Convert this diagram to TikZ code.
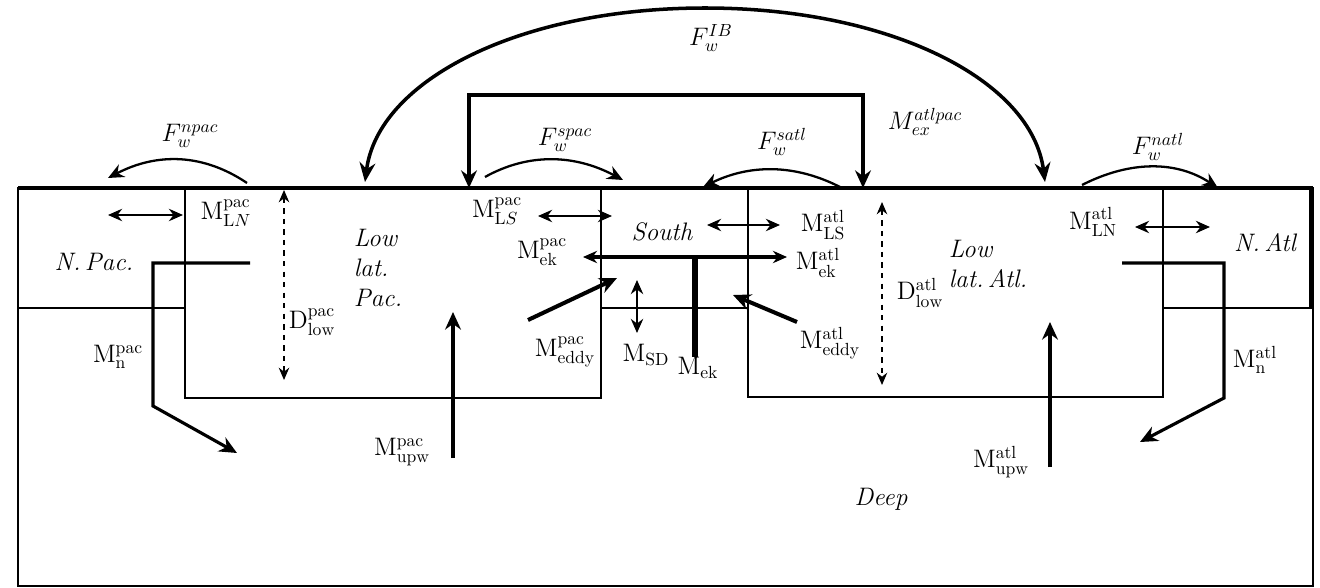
\documentclass[tikz,border=0pt]{standalone}
\usepackage{fontspec}
\usepackage{tikz}
\usetikzlibrary{arrows.meta,positioning}
\usepackage{amsmath}

\begin{document}
\begin{tikzpicture}[x=0.02cm,y=-0.02cm,
  wall/.style={line width=1.3pt},
  topwall/.style={line width=2.4pt},
  flux/.style={line width=2.3pt,-{Stealth[length=10pt,width=9pt]}},
  path flux/.style={line width=1.8pt,-{Stealth[length=10pt,width=9pt]}},
  mix/.style={line width=1.4pt,{Stealth[length=8pt,width=7pt]}-{Stealth[length=8pt,width=7pt]}},
  depth/.style={line width=0.8pt,dashed,{Stealth[length=7pt,width=6pt]}-{Stealth[length=7pt,width=6pt]}},
  wind/.style={line width=1.3pt,-{Stealth[length=9pt,width=8pt]}},
  lbl/.style={font=\fontsize{14.4}{17}\selectfont},
  region/.style={font=\fontsize{14.4}{17}\selectfont\itshape,align=left}]
  \useasboundingbox (0,0) rectangle (1320,588);

  % ocean boxes
  \draw[wall] (18,188) rectangle (1313,586);
  \draw[topwall] (18,188) -- (1313,188);
  \draw[wall] (18,308) -- (185,308) (185,188) -- (185,398) -- (601,398) -- (601,188);
  \draw[wall] (601,308) -- (748,308) (748,188) -- (748,397) -- (1163,397) -- (1163,188);
  \draw[wall] (1163,308) -- (1313,308);
  \draw[topwall] (1311,188) -- (1311,308);

  % box names
  \node[region] (npac) at (94,262) {N.\,Pac.};
  \node[region] (lowpac) at (378,268) {Low\\lat.\\Pac.};
  \node[region] (south) at (662,232) {South};
  \node[region] (lowatl) at (988,264) {Low\\lat.\,Atl.};
  \node[region] (natl) at (1265,243) {N.\,Atl};
  \node[region] (deep) at (881,499) {Deep};

  % wind-driven fluxes over the top
  \draw[wind,line width=2pt,{Stealth[length=11pt,width=9pt]}-{Stealth[length=11pt,width=9pt]}]
    (365,182) .. controls (378,80) and (520,8) .. (705,8)
              .. controls (890,8) and (1032,80) .. (1045,182);
  \node[lbl] (fib) at (711,38) {$F_w^{IB}$};
  \draw[wind] (247,183) .. controls (204,154) and (158,152) .. (108,178);
  \node[lbl] (fnpac) at (190,136) {$F_w^{npac}$};
  \draw[wind] (485,177) .. controls (528,153) and (574,154) .. (623,180);
  \node[lbl] (fspac) at (565,140) {$F_w^{spac}$};
  \draw[wind] (840,187) .. controls (795,164) and (750,164) .. (703,187);
  \node[lbl] (fsatl) at (782,142) {$F_w^{satl}$};
  \draw[wind] (1082,185) .. controls (1131,160) and (1177,161) .. (1218,188);
  \node[lbl] (fnatl) at (1158,147) {$F_w^{natl}$};

  % exchange between basins
  \draw[path flux,{Stealth[length=10pt,width=9pt]}-{Stealth[length=10pt,width=9pt]}]
    (469,188) -- (469,95) -- (863,95) -- (863,188);
  \node[lbl] (mex) at (925,122) {$M_{ex}^{atlpac}$};

  % Pacific side
  \draw[mix] (108,215) -- (183,215);
  \node[lbl] (mlnpac) at (226,213) {$\mathrm{M}^{\mathrm{pac}}_{\mathrm{L}N}$};
  \draw[path flux] (250,263) -- (153,263) -- (153,406) -- (237,453);
  \node[lbl] (mnpac) at (118,357) {$\mathrm{M}^{\mathrm{pac}}_{\mathrm{n}}$};
  \draw[depth] (284,190) -- (284,380);
  \node[lbl] (dpac) at (312,322) {$\mathrm{D}^{\mathrm{pac}}_{\mathrm{low}}$};
  \draw[flux] (453,458) -- (453,312);
  \node[lbl] (mupwpac) at (402,452) {$\mathrm{M}^{\mathrm{pac}}_{\mathrm{upw}}$};
  \draw[mix] (538,216) -- (612,216);
  \node[lbl] (mlspac) at (497,211) {$\mathrm{M}^{\mathrm{pac}}_{\mathrm{L}S}$};
  \node[lbl] (mekpac) at (542,252) {$\mathrm{M}^{\mathrm{pac}}_{\mathrm{ek}}$};
  \draw[flux] (528,320) -- (617,278);
  \node[lbl] (meddypac) at (565,352) {$\mathrm{M}^{\mathrm{pac}}_{\mathrm{eddy}}$};

  % Southern box
  \draw[mix] (707,225) -- (780,225);
  \draw[mix,line width=1.8pt] (583,257) -- (787,257);
  \draw[line width=3pt] (695,257) -- (695,357);
  \node[lbl] (mek) at (698,368) {$\mathrm{M}_{\mathrm{ek}}$};
  \draw[mix] (637,280) -- (637,333);
  \node[lbl] (msd) at (646,355) {$\mathrm{M}_{\mathrm{SD}}$};

  % Atlantic side
  \node[lbl] (mlsatl) at (823,225) {$\mathrm{M}^{\mathrm{atl}}_{\mathrm{LS}}$};
  \node[lbl] (mekatl) at (818,263) {$\mathrm{M}^{\mathrm{atl}}_{\mathrm{ek}}$};
  \draw[flux] (797,322) -- (733,295);
  \node[lbl] (meddyatl) at (830,343) {$\mathrm{M}^{\mathrm{atl}}_{\mathrm{eddy}}$};
  \draw[depth] (882,202) -- (882,385);
  \node[lbl] (datl) at (920,293) {$\mathrm{D}^{\mathrm{atl}}_{\mathrm{low}}$};
  \draw[flux] (1050,467) -- (1050,322);
  \node[lbl] (mupwatl) at (1001,462) {$\mathrm{M}^{\mathrm{atl}}_{\mathrm{upw}}$};
  \draw[mix] (1135,227) -- (1210,227);
  \node[lbl] (mlnatl) at (1093,222) {$\mathrm{M}^{\mathrm{atl}}_{\mathrm{LN}}$};
  \draw[path flux] (1122,263) -- (1224,263) -- (1224,398) -- (1140,442);
  \node[lbl] (mnatl) at (1255,360) {$\mathrm{M}^{\mathrm{atl}}_{\mathrm{n}}$};
\end{tikzpicture}
\end{document}
